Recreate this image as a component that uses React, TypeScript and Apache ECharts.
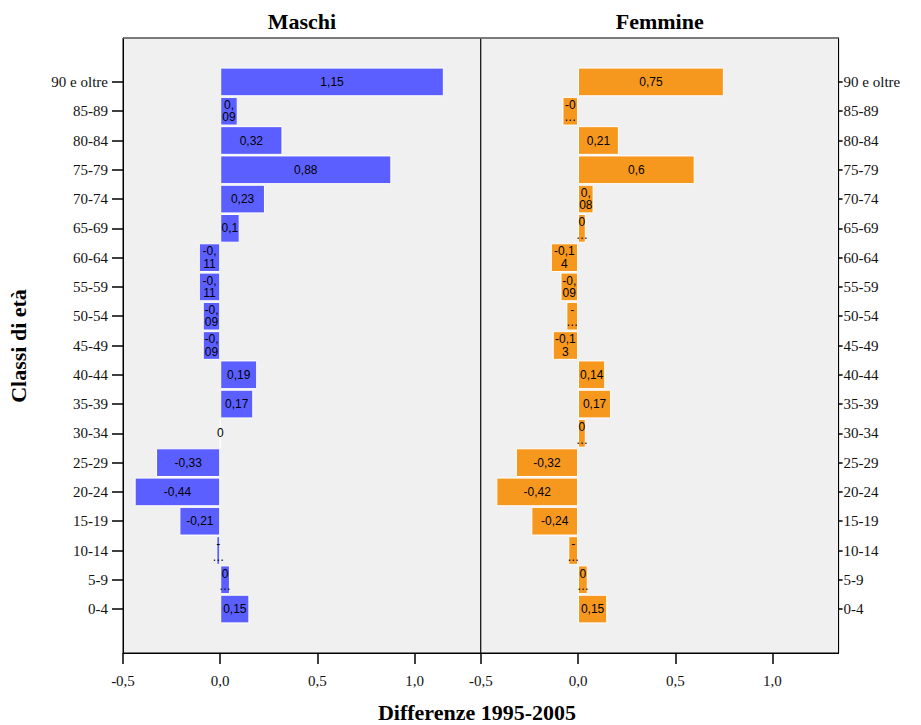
import React, { useEffect, useRef } from 'react';
import * as echarts from 'echarts';

// ---- Data (bottom to top) ----
const ageClasses = ['0-4', '5-9', '10-14', '15-19', '20-24', '25-29', '30-34', '35-39', '40-44', '45-49', '50-54', '55-59', '60-64', '65-69', '70-74', '75-79', '80-84', '85-89', '90 e oltre'];
const maschi = [0.15, 0.05, -0.02, -0.21, -0.44, -0.33, 0, 0.17, 0.19, -0.09, -0.09, -0.11, -0.11, 0.1, 0.23, 0.88, 0.32, 0.09, 1.15];
const femmine = [0.15, 0.05, -0.05, -0.24, -0.42, -0.32, 0.04, 0.17, 0.14, -0.13, -0.06, -0.09, -0.14, 0.04, 0.08, 0.6, 0.21, -0.08, 0.75];
const xTickValues = [-0.5, 0, 0.5, 1.0];
const panelTitles = ['Maschi', 'Femmine'];
const xTitle = 'Differenze 1995-2005';
const yTitle = 'Classi di età';

// ---- Layout ----
const X_MIN = -0.5;
const X_MAX = 1.34;
const GRID_TOP = 38;
const GRID_H = 615;
const GRID_W = 357.8;
const LEFT1 = 123;
const LEFT2 = LEFT1 + GRID_W;
const PPU = GRID_W / (X_MAX - X_MIN);

const SERIF = '"Liberation Serif", "Times New Roman", serif';
const SANS = '"Liberation Sans", Arial, sans-serif';

let ctx: CanvasRenderingContext2D | null = null;
function measure(s: string): number {
  if (!ctx) {
    ctx = document.createElement('canvas').getContext('2d');
  }
  if (!ctx) return s.length * 6.7;
  ctx.font = '12px ' + SANS;
  return ctx.measureText(s).width;
}
const fmt = (v: number) => String(v).replace('.', ',');
function wrapLabel(v: number): string {
  const text = fmt(v);
  if (v === 0) return text;
  const avail = Math.abs(v) * PPU - 2;
  if (measure(text) <= avail) return text;
  let n = 1;
  while (n < text.length && measure(text.slice(0, n + 1)) <= avail) n++;
  const line1 = text.slice(0, n);
  const rest = text.slice(n);
  if (!rest) return line1;
  if (measure(rest) <= avail) return line1 + '\n' + rest;
  let m = 0;
  while (m < rest.length && measure(rest.slice(0, m + 1) + '…') <= avail) m++;
  return line1 + '\n' + rest.slice(0, m) + '…';
}

const padCats = ['', ...ageClasses, ''];
const pad = (arr: number[]) => ['-', ...arr, '-'];

function makeXAxis(i: number) {
  return {
    type: 'value',
    gridIndex: i,
    min: X_MIN,
    max: X_MAX,
    interval: 0.5,
    splitLine: { show: false },
    axisLine: { show: true, onZero: false, lineStyle: { color: '#000', width: 1 } },
    axisTick: { show: true, length: 11, customValues: xTickValues, lineStyle: { color: '#000', width: 1.5 } },
    axisLabel: {
      customValues: xTickValues,
      formatter: (v: number) => v.toFixed(1).replace('.', ','),
      fontFamily: SERIF,
      fontSize: 15,
      color: '#111',
      margin: 20,
    },
  };
}

function makeYAxis(i: number) {
  return {
    type: 'category',
    gridIndex: i,
    position: i === 0 ? 'left' : 'right',
    data: padCats,
    axisLine: { show: true, onZero: false, lineStyle: { color: '#000', width: 1 } },
    axisTick: {
      show: true,
      alignWithLabel: true,
      length: i === 0 ? 11 : 4,
      interval: (_idx: number, val: string) => val !== '',
      lineStyle: { color: '#000', width: 1.5 },
    },
    axisLabel: {
      interval: 0,
      fontFamily: SERIF,
      fontSize: 15,
      color: '#111',
      margin: i === 0 ? 15 : 5,
    },
    splitLine: { show: false },
  };
}

function makeSeries(i: number, values: number[], color: string) {
  return {
    type: 'bar',
    xAxisIndex: i,
    yAxisIndex: i,
    data: pad(values),
    barCategoryGap: '2%',
    itemStyle: { color, borderColor: '#fff', borderWidth: 1 },
    label: {
      show: true,
      position: 'inside',
      formatter: (p: any) => wrapLabel(Number(p.value)),
      fontFamily: SANS,
      fontSize: 12,
      lineHeight: 12.5,
      color: '#000',
      textBorderWidth: 0,
    },
  };
}

export default function App() {
  const ref = useRef<HTMLDivElement>(null);
  useEffect(() => {
    if (!ref.current) return;
    const chart = echarts.init(ref.current, undefined, { renderer: 'svg' });
    const gridCommon = {
      top: GRID_TOP,
      height: GRID_H,
      width: GRID_W,
      show: true,
      backgroundColor: '#f0f0f0',
      borderColor: '#000',
      borderWidth: 1,
      containLabel: false,
    };
    chart.setOption({
      animation: false,
      backgroundColor: '#fff',
      grid: [
        { ...gridCommon, left: LEFT1 },
        { ...gridCommon, left: LEFT2 },
      ],
      xAxis: [makeXAxis(0), makeXAxis(1)],
      yAxis: [makeYAxis(0), makeYAxis(1)],
      series: [makeSeries(0, maschi, '#5c5fff'), makeSeries(1, femmine, '#f7981e')],
      graphic: [
        {
          type: 'line',
          z: 100,
          shape: { x1: LEFT1, y1: GRID_TOP, x2: LEFT2 + GRID_W, y2: GRID_TOP },
          style: { stroke: '#7a7a7a', lineWidth: 1.5 },
        },
        {
          type: 'text',
          x: LEFT1 + GRID_W / 2,
          y: 21,
          style: { text: panelTitles[0], font: 'bold 22px ' + SERIF, fill: '#000', align: 'center', verticalAlign: 'middle' },
        },
        {
          type: 'text',
          x: LEFT2 + GRID_W / 2,
          y: 21,
          style: { text: panelTitles[1], font: 'bold 22px ' + SERIF, fill: '#000', align: 'center', verticalAlign: 'middle' },
        },
        {
          type: 'text',
          x: 477,
          y: 712,
          style: { text: xTitle, font: 'bold 22px ' + SERIF, fill: '#000', align: 'center', verticalAlign: 'middle' },
        },
        {
          type: 'text',
          x: 18,
          y: 346,
          rotation: Math.PI / 2,
          style: { text: yTitle, font: 'bold 22px ' + SERIF, fill: '#000', align: 'center', verticalAlign: 'middle' },
        },
      ],
    });
    return () => chart.dispose();
  }, []);
  return (
    <div
      ref={ref}
      style={{ position: 'fixed', left: 0, top: 0, width: 921, height: 725, background: '#fff' }}
    />
  );
}
